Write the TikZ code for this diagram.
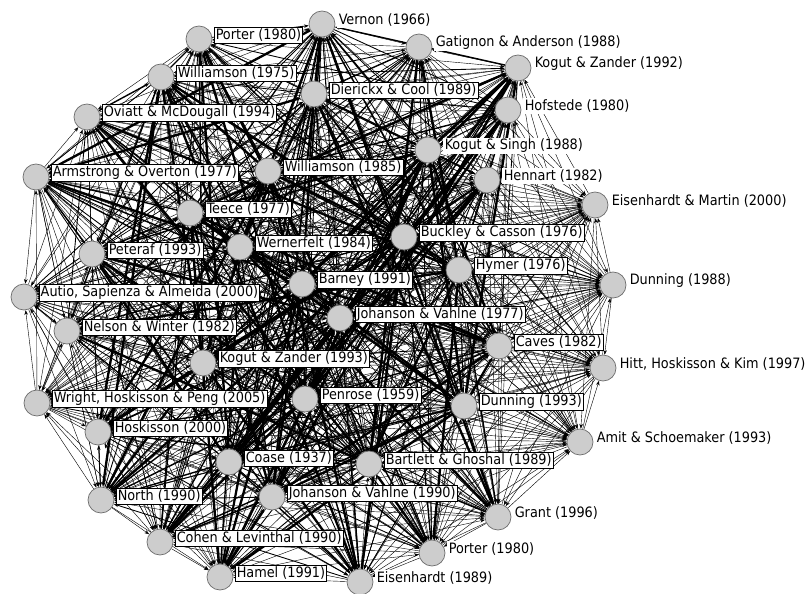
\documentclass[tikz,border=0pt]{standalone}
\usepackage{fontspec}
\usepackage{tikz}
\usetikzlibrary{positioning,calc,backgrounds,arrows.meta}
\newfontfamily\lblfont{DejaVu Sans Condensed}
\definecolor{papergray}{RGB}{205,205,205}
\definecolor{rimgray}{RGB}{110,110,110}
% citation weight of each paper (1 = periphery, 3 = core)
\def\paperwt{{3,2,2,2,3,3,2,2,3,3,2,2,1,3,3,3,2,3,3,1,1,3,2,2,3,1,3,1,3,2,1,3,3,3,2,2,2,2,2,2}}

\begin{document}
\begin{tikzpicture}[x=0.03cm, y=-0.03cm, >=Stealth,
    paper/.style={circle, fill=papergray, draw=rimgray, line width=0.6pt, minimum size=0.78cm, inner sep=0pt},
    lbl/.style={fill=white, inner sep=1.2pt, font=\lblfont\fontsize{12.2}{13}\selectfont, anchor=west},
    boxlbl/.style={lbl, draw=black, line width=0.4pt},
    cite/.style={-{Stealth[length=4pt,width=3pt]}, line width=0.35pt},
    cite1/.style={cite, line width=0.75pt},
    cite2/.style={cite, line width=1.2pt},
    cite3/.style={cite, line width=2pt}]
    \useasboundingbox (0,0) rectangle (811,594);

    % Papers
    \foreach \n/\x/\y/\b/\t in {
        1/322/24/lbl/{Vernon (1966)},
        2/199/39/boxlbl/{Porter (1980)},
        3/419/47/lbl/{Gatignon \& Anderson (1988)},
        4/518/68/lbl/{Kogut \& Zander (1992)},
        5/161/77/boxlbl/{Williamson (1975)},
        6/314/94/boxlbl/{Dierickx \& Cool (1989)},
        7/508/110/lbl/{Hofstede (1980)},
        8/87/117/boxlbl/{Oviatt \& McDougall (1994)},
        9/428/150/lbl/{Kogut \& Singh (1988)},
        10/268/171/boxlbl/{Williamson (1985)},
        11/36/177/boxlbl/{Armstrong \& Overton (1977)},
        12/487/180/lbl/{Hennart (1982)},
        13/595/205/lbl/{Eisenhardt \& Martin (2000)},
        14/190/213/boxlbl/{Teece (1977)},
        15/404/237/boxlbl/{Buckley \& Casson (1976)},
        16/240/247/boxlbl/{Wernerfelt (1984)},
        17/92/254/boxlbl/{Peteraf (1993)},
        18/459/270/boxlbl/{Hymer (1976)},
        19/302/284/boxlbl/{Barney (1991)},
        20/613/285/lbl/{Dunning (1988)},
        21/24/297/boxlbl/{Autio, Sapienza \& Almeida (2000)},
        22/340/318/boxlbl/{Johanson \& Vahlne (1977)},
        23/67/331/boxlbl/{Nelson \& Winter (1982)},
        24/499/346/boxlbl/{Caves (1982)},
        25/203/363/boxlbl/{Kogut \& Zander (1993)},
        26/603/368/lbl/{Hitt, Hoskisson \& Kim (1997)},
        27/305/399/boxlbl/{Penrose (1959)},
        28/37/403/boxlbl/{Wright, Hoskisson \& Peng (2005)},
        29/464/406/boxlbl/{Dunning (1993)},
        30/98/432/boxlbl/{Hoskisson (2000)},
        31/580/442/lbl/{Amit \& Schoemaker (1993)},
        32/229/462/boxlbl/{Coase (1937)},
        33/369/464/boxlbl/{Bartlett \& Ghoshal (1989)},
        34/272/497/boxlbl/{Johanson \& Vahlne (1990)},
        35/101/500/boxlbl/{North (1990)},
        36/498/517/lbl/{Grant (1996)},
        37/160/542/boxlbl/{Cohen \& Levinthal (1990)},
        38/432/553/lbl/{Porter (1980)},
        39/220/577/boxlbl/{Hamel (1991)},
        40/360/582/lbl/{Eisenhardt (1989)}} {
        \node[paper] (p\n) at (\x,\y) {};
        \node[\b] (l\n) at ([xshift=1.5pt, yshift=3.4pt]p\n.east) {\t};
    }

    % Citation links
    \begin{scope}[on background layer]
    \foreach \i in {1,...,39} {
        \pgfmathtruncatemacro{\nxt}{\i+1}
        \foreach \j in {\nxt,...,40} {
            \pgfmathtruncatemacro{\w}{\paperwt[\i-1]+\paperwt[\j-1]}
            \pgfmathtruncatemacro{\h}{mod(\i*13+\j*7,5)}
            \pgfmathtruncatemacro{\d}{mod(\i*5+\j*3,2)}
            \def\sty{cite}
            \ifnum\w>4
                \ifcase\h \def\sty{cite3}\or\def\sty{cite2}\or\def\sty{cite1}\fi
            \else\ifnum\w=4
                \ifnum\h=0 \def\sty{cite1}\fi
            \fi\fi
            \ifnum\d=0
                \draw[\sty] (p\i) -- (p\j);
            \else
                \draw[\sty] (p\j) -- (p\i);
            \fi
        }
    }
    \end{scope}
\end{tikzpicture}
\end{document}
